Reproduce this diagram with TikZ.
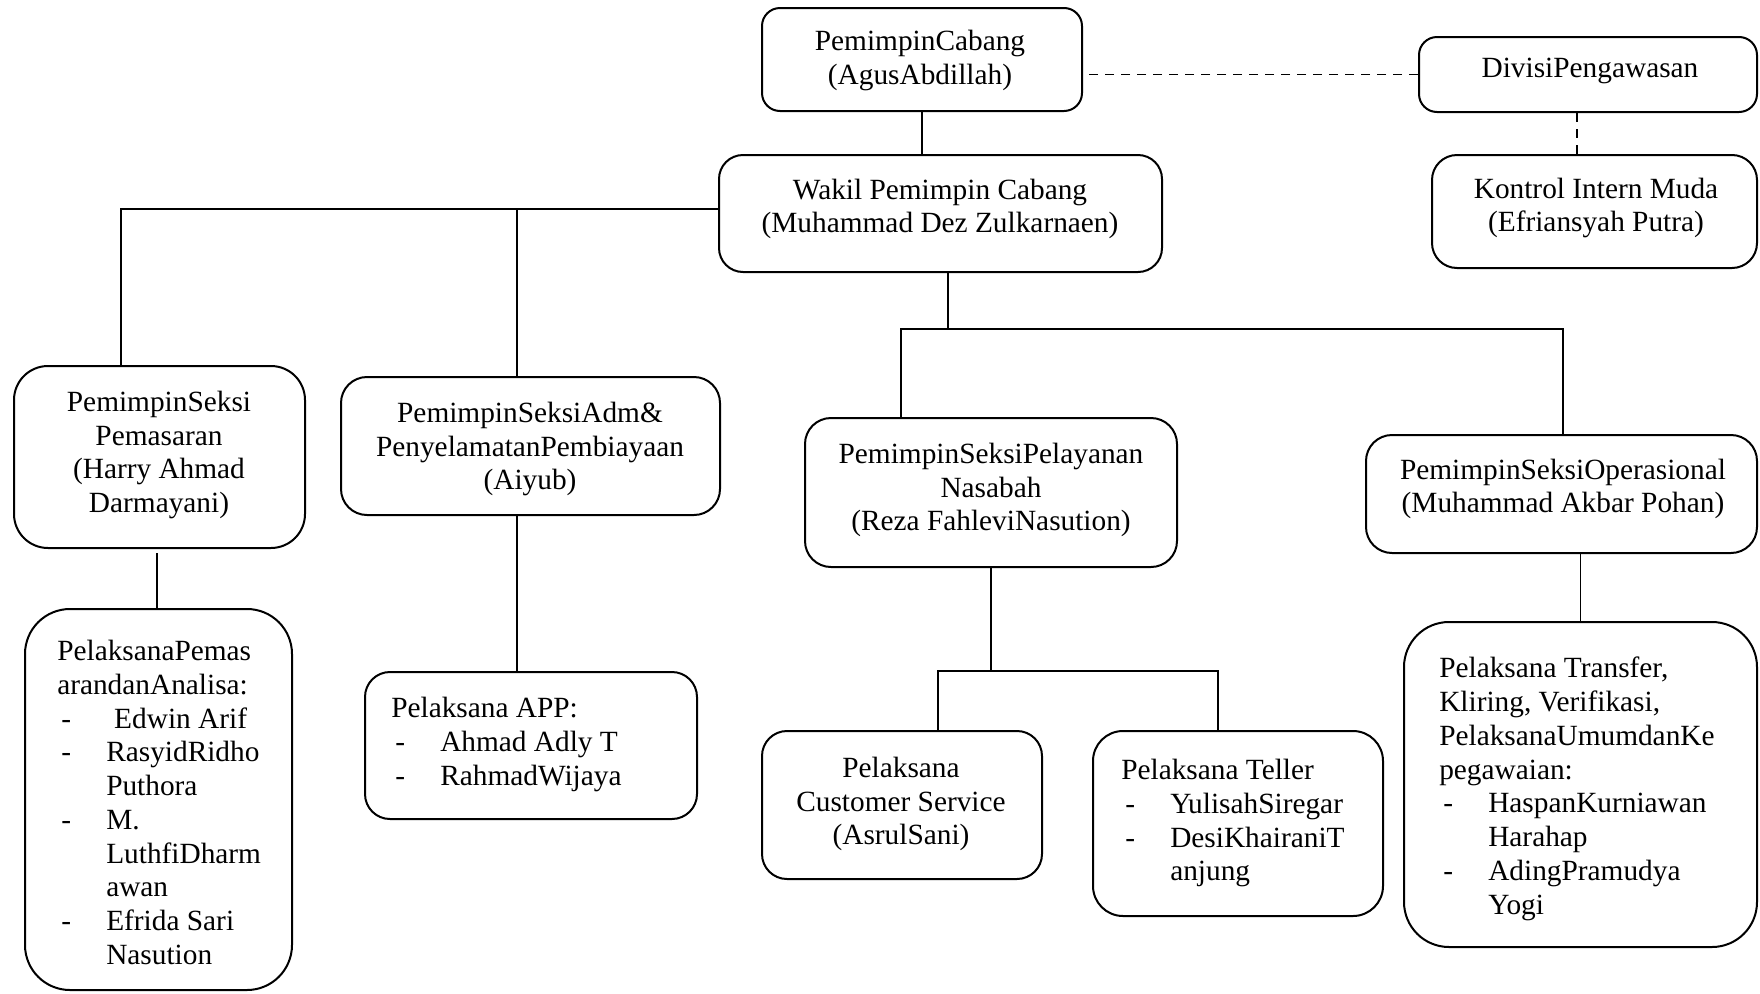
\documentclass[tikz,border=0pt]{standalone}
\usepackage{fontspec}
\setmainfont{Liberation Serif}
\usetikzlibrary{calc}
\newcommand{\mydli}{\hspace*{3pt}\makebox[33.75pt][l]{-}}
\newcommand{\myind}{\hspace*{36.75pt}}
\begin{document}
\begin{tikzpicture}[x=0.75pt,y=-0.75pt,
 box/.style={draw, line width=1.5pt, inner sep=0pt},
 conn/.style={line width=1.2pt},
 dconn/.style={line width=1.2pt, dash pattern=on 7pt off 5pt},
 txt/.style={font=\fontsize{22}{25.3}\selectfont, inner sep=0pt, align=center},
 ltxt/.style={font=\fontsize{22}{25.3}\selectfont, inner sep=0pt, align=left, anchor=north west}]
\useasboundingbox[fill=white] (0,0) rectangle (1760,993);

% boxes
\node[box, rounded corners=13.5pt, minimum width=240pt, minimum height=77.25pt] (cabang) at (922,59.5) {};
\node[box, rounded corners=13.5pt, minimum width=253.5pt, minimum height=56.25pt] (divisi) at (1588,74.5) {};
\node[box, rounded corners=18pt, minimum width=332.25pt, minimum height=87.75pt] (wakil) at (940.5,213.5) {};
\node[box, rounded corners=18.75pt, minimum width=243.75pt, minimum height=84.75pt] (kontrol) at (1594.5,211.5) {};
\node[box, rounded corners=25.5pt, minimum width=218.25pt, minimum height=136.5pt] (pemasaran) at (159.5,457) {};
\node[box, rounded corners=19.5pt, minimum width=284.25pt, minimum height=103.5pt] (adm) at (530.5,446) {};
\node[box, rounded corners=19.5pt, minimum width=279pt, minimum height=111.75pt] (pelayanan) at (991,492.5) {};
\node[box, rounded corners=19.5pt, minimum width=293.25pt, minimum height=88.5pt] (operasional) at (1561.5,494) {};
\node[box, rounded corners=33.75pt, minimum width=200.25pt, minimum height=285.75pt] (lpemasaran) at (158.5,799.5) {};
\node[box, rounded corners=18.75pt, minimum width=249pt, minimum height=110.25pt] (app) at (531,745.5) {};
\node[box, rounded corners=18.75pt, minimum width=210pt, minimum height=111pt] (cs) at (902,805) {};
\node[box, rounded corners=22.5pt, minimum width=217.5pt, minimum height=138.75pt] (teller) at (1238,823.5) {};
\node[box, rounded corners=33.75pt, minimum width=264.75pt, minimum height=243.75pt] (transfer) at (1580.5,784.5) {};

% junctions
\coordinate (jL) at (121,209);
\coordinate (jA) at (517,209);
\coordinate (jR) at (948,329);
\coordinate (jP) at (901,329);
\coordinate (jO) at (1563,329);
\coordinate (jC) at (938,671);
\coordinate (jT) at (1218,671);
\coordinate (jD) at (1577,0);
\coordinate (jM) at (157,553);

% connectors
\draw[conn] (cabang.south) -- (cabang.south |- wakil.north);
\draw[dconn] (divisi.west) -- (divisi.west -| cabang.east);
\draw[dconn] (jD |- divisi.south) -- (jD |- kontrol.north);
\draw[conn] (wakil.west |- jL) -- (jL) -- (jL |- pemasaran.north);
\draw[conn] (jA) -- (jA |- adm.north);
\draw[conn] (wakil.south -| jR) -- (jR);
\draw[conn] (jP |- pelayanan.north) -- (jP) -- (jO) -- (jO |- operasional.north);
\draw[conn] (jM) -- (jM |- lpemasaran.north);
\draw[conn] (jA |- adm.south) -- (jA |- app.north);
\draw[conn] (pelayanan.south) -- (pelayanan.south |- jC);
\draw[conn] (jC |- cs.north) -- (jC) -- (jT) -- (jT |- teller.north);
\draw[conn] (transfer.north) -- (transfer.north |- operasional.south);

% texts
\node[txt] (tcabang) at (920,60.5) {PemimpinCabang\\(AgusAbdillah)};
\node[txt] (tdivisi) at (1590,71) {DivisiPengawasan};
\node[txt] (twakil) at (940,209) {Wakil Pemimpin Cabang\\(Muhammad Dez Zulkarnaen)};
\node[txt] (tkontrol) at (1596,208) {Kontrol Intern Muda\\(Efriansyah Putra)};
\node[txt] (tpemasaran) at (159,455) {PemimpinSeksi\\Pemasaran\\(Harry Ahmad\\Darmayani)};
\node[txt] (tadm) at (530,449) {PemimpinSeksiAdm\&\\PenyelamatanPembiayaan\\(Aiyub)};
\node[txt] (tpelayanan) at (991,490) {PemimpinSeksiPelayanan\\Nasabah\\(Reza FahleviNasution)};
\node[txt] (toperasional) at (1563,489) {PemimpinSeksiOperasional\\(Muhammad Akbar Pohan)};
\node[txt] (tcs) at (901,804) {Pelaksana\\Customer Service\\(AsrulSani)};

\node[ltxt] (tlpemasaran) at (57,640) {PelaksanaPemas\\arandanAnalisa:\\\mydli\hspace{6pt}Edwin Arif\\\mydli RasyidRidho\\\myind Puthora\\\mydli M.\\\myind LuthfiDharm\\\myind awan\\\mydli Efrida Sari\\\myind Nasution};
\node[ltxt] (tapp) at (391,697) {Pelaksana APP:\\\mydli Ahmad Adly T\\\mydli RahmadWijaya};
\node[ltxt] (tteller) at (1121,759) {Pelaksana Teller\\\mydli YulisahSiregar\\\mydli DesiKhairaniT\\\myind anjung};
\node[ltxt] (ttransfer) at (1439,657) {Pelaksana Transfer,\\Kliring, Verifikasi,\\PelaksanaUmumdanKe\\pegawaian:\\\mydli HaspanKurniawan\\\myind Harahap\\\mydli AdingPramudya\\\myind Yogi};
\end{tikzpicture}
\end{document}
